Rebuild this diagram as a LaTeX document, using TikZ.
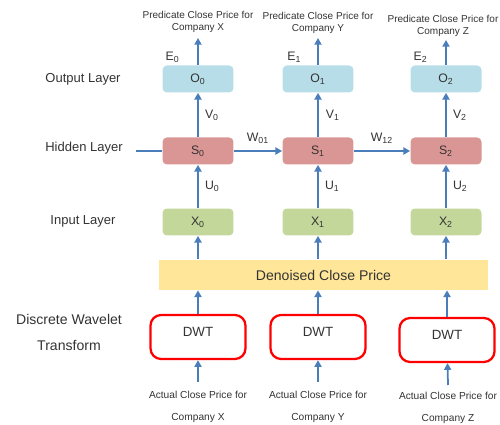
\documentclass[tikz,border=0pt]{standalone}
\usepackage{fontspec}
\setmainfont{Liberation Sans}
\usetikzlibrary{arrows.meta,calc}
\definecolor{outblue}{HTML}{B7DDE8}
\definecolor{hidred}{HTML}{DA9694}
\definecolor{ingreen}{HTML}{C4D79B}
\definecolor{baryellow}{HTML}{FFE699}
\definecolor{arrblue}{HTML}{4A7EBB}
\definecolor{txtgray}{HTML}{333333}
\tikzset{
  x=0.02cm, y=-0.02cm,
  layerbox/.style = {rounded corners=2.5pt, minimum width=1.42cm, minimum height=0.54cm, inner sep=0pt, text=txtgray, font=\fontsize{7}{8}\selectfont},
  outbox/.style = {layerbox, fill=outblue},
  hidbox/.style = {layerbox, fill=hidred},
  inbox/.style = {layerbox, fill=ingreen},
  barbox/.style = {fill=baryellow, minimum width=6.58cm, minimum height=0.6cm, inner sep=0pt, text=txtgray, font=\fontsize{8}{9}\selectfont},
  dwtbox/.style = {draw=red, fill=white, line width=1.3pt, rounded corners=6pt, minimum width=1.9cm, minimum height=0.88cm, text depth=0.2cm, inner sep=0pt, text=txtgray, font=\fontsize{7.6}{9}\selectfont},
  layername/.style = {align=center, text=txtgray, font=\fontsize{7.4}{8}\selectfont},
  small/.style = {align=center, text=txtgray, font=\fontsize{5.7}{6.8}\selectfont},
  lbl/.style = {text=txtgray, inner sep=0pt, font=\fontsize{7}{8}\selectfont},
  arr/.style = {draw=arrblue, line width=1pt, -{Triangle[length=3.8pt,width=4pt]}}
}
\begin{document}
\begin{tikzpicture}
\useasboundingbox (0,0) rectangle (500,425);

% layer names
\node [layername] (outname) at (83,79) {Output Layer};
\node [layername] (hidname) at (84,148) {Hidden Layer};
\node [layername] (inname) at (83,221) {Input Layer};
\node [layername, font=\fontsize{8}{14.8}\selectfont] (dwtname) at (69,332) {Discrete Wavelet\\Transform};

% output layer
\node [outbox] (o0) at (198,79) {O\textsubscript{0}};
\node [outbox] (o1) at (318,79) {O\textsubscript{1}};
\node [outbox] (o2) at (446,79) {O\textsubscript{2}};

% hidden layer
\node [hidbox] (s0) at (198,151) {S\textsubscript{0}};
\node [hidbox] (s1) at (318,151) {S\textsubscript{1}};
\node [hidbox] (s2) at (446,151) {S\textsubscript{2}};

% input layer
\node [inbox] (x0) at (198,222) {X\textsubscript{0}};
\node [inbox] (x1) at (318,222) {X\textsubscript{1}};
\node [inbox] (x2) at (446,222) {X\textsubscript{2}};

% denoised price
\node [barbox] (bar) at (323.5,275) {Denoised Close Price};

% wavelet transform
\node [dwtbox] (dwt0) at (198,337) {DWT};
\node [dwtbox] (dwt1) at (318,337) {DWT};
\node [dwtbox] (dwt2) at (447,340) {DWT};

% predicted and actual prices
\node [small] (pred0) at (198,22) {Predicate Close Price for\\Company X};
\node [small] (pred1) at (318,23) {Predicate Close Price for\\Company Y};
\node [small] (pred2) at (443,26) {Predicate Close Price for\\Company Z};
\node [small, font=\fontsize{5.8}{12.5}\selectfont] (act0) at (198,407) {Actual Close Price for\\Company X};
\node [small, font=\fontsize{5.8}{12.5}\selectfont] (act1) at (318,407) {Actual Close Price for\\Company Y};
\node [small, font=\fontsize{5.8}{12.5}\selectfont] (act2) at (448,408) {Actual Close Price for\\Company Z};

\coordinate (e0) at (198,38);
\coordinate (e1) at (318,38);
\coordinate (e2) at (446,40);
\coordinate (a0) at (198,382);
\coordinate (a1) at (318,382);
\coordinate (a2) at (448,385);
\coordinate (hin) at (136,151);

% connectors
\draw [arr] (o0) -- node [lbl, pos=0.3, left=10pt] {E\textsubscript{0}} (e0);
\draw [arr] (o1) -- node [lbl, pos=0.3, left=9pt] {E\textsubscript{1}} (e1);
\draw [arr] (o2) -- node [lbl, pos=0.3, left=10pt] {E\textsubscript{2}} (e2);
\draw [arr] (s0) -- node [lbl, right=3.5pt] {V\textsubscript{0}} (o0);
\draw [arr] (s1) -- node [lbl, right=4pt] {V\textsubscript{1}} (o1);
\draw [arr] (s2) -- node [lbl, right=3.5pt] {V\textsubscript{2}} (o2);
\draw [draw=arrblue, line width=1pt] (hin) -- (s0);
\draw [arr] (s0) -- node [lbl, above=4pt] {W\textsubscript{01}} (s1);
\draw [arr] (s1) -- node [lbl, above=4pt] {W\textsubscript{12}} (s2);
\draw [arr] (x0) -- node [lbl, right=3.5pt] {U\textsubscript{0}} (s0);
\draw [arr] (x1) -- node [lbl, right=3.5pt] {U\textsubscript{1}} (s1);
\draw [arr] (x2) -- node [lbl, right=3.5pt] {U\textsubscript{2}} (s2);
\draw [arr] (bar.north -| x0) ++(0,-1) -- (x0);
\draw [arr] (bar.north -| x1) ++(0,-1) -- (x1);
\draw [arr] (bar.north -| x2) ++(0,-1) -- (x2);
\draw [arr] (dwt0) -- (dwt0 |- bar.south);
\draw [arr] (dwt1) -- (dwt1 |- bar.south);
\draw [arr] (dwt2) -- (dwt2 |- bar.south);
\draw [arr] (a0) -- (dwt0);
\draw [arr] (a1) -- (dwt1);
\draw [arr] (a2) -- (dwt2);
\end{tikzpicture}
\end{document}
